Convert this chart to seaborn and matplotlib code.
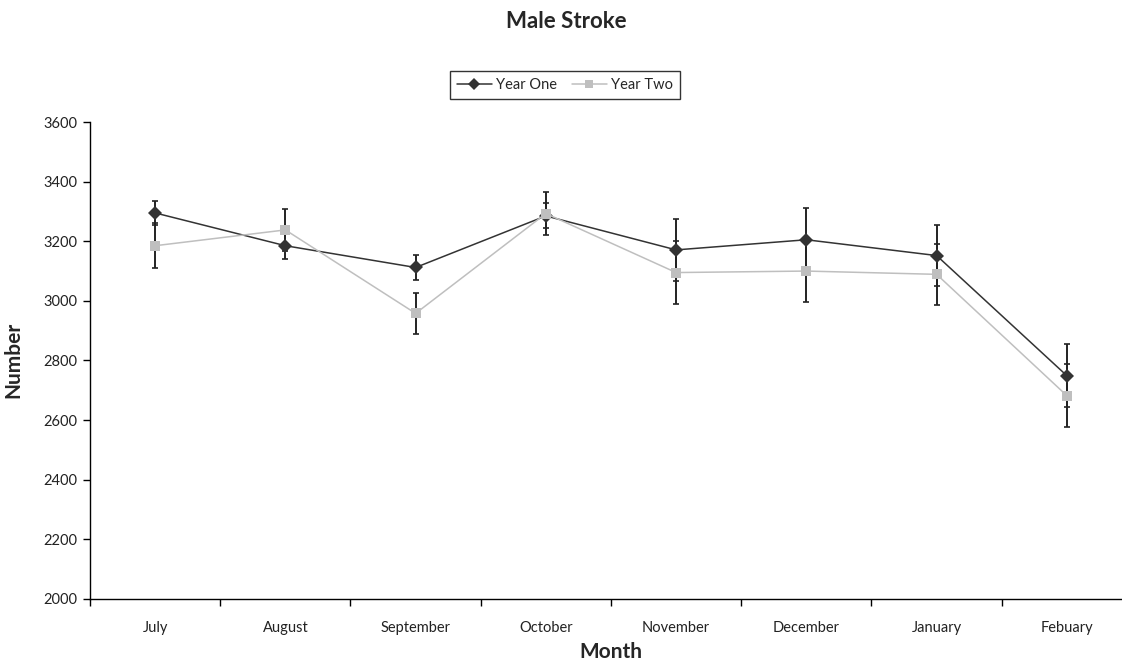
import numpy as np
import pandas as pd
import seaborn as sns
import matplotlib
matplotlib.use("Agg")
import matplotlib.pyplot as plt
from matplotlib.ticker import FixedLocator

months = ["July", "August", "September", "October", "November", "December", "January", "Febuary"]
year_one = [3295, 3185, 3112, 3285, 3171, 3205, 3152, 2749]
year_one_err = [40, 45, 42, 42, 105, 105, 103, 105]
year_two = [3185, 3238, 2958, 3293, 3095, 3100, 3089, 2682]
year_two_err = [75, 70, 70, 72, 105, 103, 103, 105]
series_names = ["Year One", "Year Two"]
yticks = [2000, 2200, 2400, 2600, 2800, 3000, 3200, 3400, 3600]

sns.set_style("white")
plt.rcParams['font.family'] = ['Lato', 'DejaVu Sans']

df = pd.DataFrame({
    "Month": months * 2,
    "Number": year_one + year_two,
    "Series": [series_names[0]] * len(months) + [series_names[1]] * len(months),
})

fig = plt.figure(figsize=(11.22, 6.61), dpi=100)
W, H = 1122, 661
ax = fig.add_axes([90 / W, 1 - 599 / H, (1122 - 90) / W, (599 - 122) / H])

dark = "#333333"
light = "#bfbfbf"
x = np.arange(len(months))

ax.errorbar(x, year_one, yerr=year_one_err, fmt="none", ecolor="#222222",
            elinewidth=1.4, capsize=2.4, capthick=1.2, zorder=2)
ax.errorbar(x, year_two, yerr=year_two_err, fmt="none", ecolor="#222222",
            elinewidth=1.4, capsize=2.4, capthick=1.2, zorder=2)

sns.lineplot(data=df, x="Month", y="Number", hue="Series", style="Series",
             palette={series_names[0]: dark, series_names[1]: light},
             markers={series_names[0]: "D", series_names[1]: "s"},
             dashes=False, markersize=7, markeredgewidth=0, linewidth=1.1,
             sort=False, ax=ax, zorder=3)

ax.set_ylim(2000, 3600)
ax.set_yticks(yticks)
ax.set_xlim(-0.5, 7.5 - 10 / 130.3)
ax.set_xticks(x)
ax.set_xticklabels(months)
ax.xaxis.set_minor_locator(FixedLocator(np.arange(len(months)) - 0.5))
ax.tick_params(axis="x", which="major", length=0, pad=16, labelsize=10.5, colors="#222222")
ax.tick_params(axis="x", which="minor", length=5, width=1, color="black", direction="out", bottom=True)
ax.tick_params(axis="y", length=5, width=1, color="black", direction="out", left=True, labelsize=10.5, pad=4, labelcolor="#222222")

for s in ["top", "right"]:
    ax.spines[s].set_visible(False)
for s in ["left", "bottom"]:
    ax.spines[s].set_color("black")
    ax.spines[s].set_linewidth(1)

ax.set_xlabel("Month", fontsize=15, fontweight="bold")
ax.set_ylabel("Number", fontsize=15, fontweight="bold")
ax.xaxis.set_label_coords(611 / W, 1 - 652 / H, transform=fig.transFigure)
ax.xaxis.label.set_va("center")
ax.yaxis.set_label_coords(13 / W, 1 - 360 / H, transform=fig.transFigure)
ax.yaxis.label.set_va("center")

fig.suptitle("Male Stroke", fontsize=16, fontweight="bold", x=566 / W, y=1 - 21 / H, va="center")

handles, labels = ax.get_legend_handles_labels()
leg = ax.legend(handles, labels, loc="center", bbox_to_anchor=(565 / W, 1 - 85 / H),
                bbox_transform=fig.transFigure, ncol=2, frameon=True, fancybox=False,
                edgecolor="black", fontsize=10.5, handlelength=2.4, handletextpad=0.3,
                columnspacing=1.0, borderpad=0.45)
leg.get_frame().set_linewidth(1)
for h in leg.legend_handles:
    h.set_markersize(6)

fig.savefig("out.png", dpi=100)
